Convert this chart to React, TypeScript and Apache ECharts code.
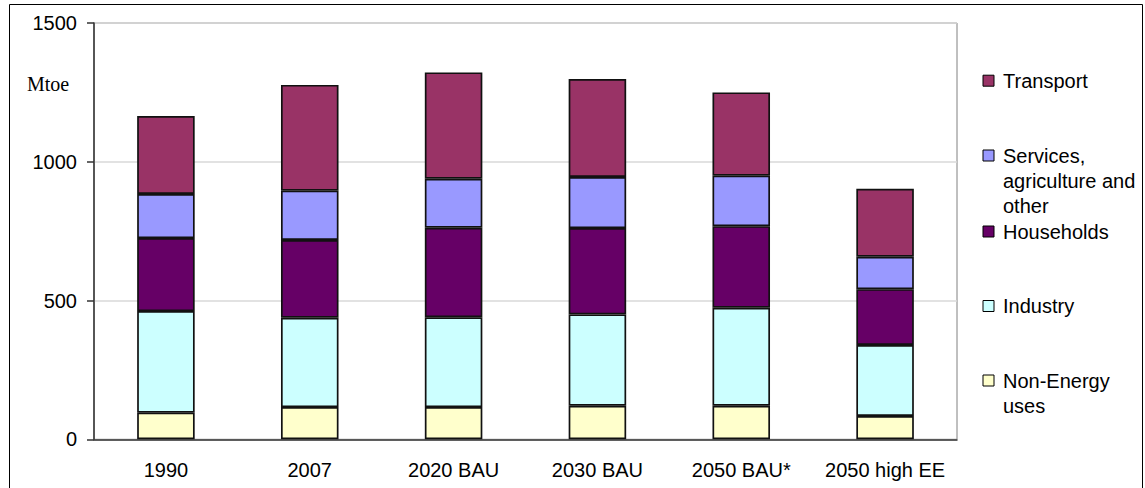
import React, { useEffect, useRef } from "react";
import * as echarts from "echarts";

const categories = ["1990", "2007", "2020 BAU", "2030 BAU", "2050 BAU*", "2050 high EE"];
const seriesNames = ["Non-Energy uses", "Industry", "Households", "Services, agriculture and other", "Transport"];
const legendLabels = ["Non-Energy\nuses", "Industry", "Households", "Services,\nagriculture and\nother", "Transport"];
const nonEnergy = [96, 116, 116, 121, 121, 84];
const industry = [366, 322, 324, 329, 353, 256];
const households = [263, 280, 322, 311, 294, 201];
const services = [159, 178, 177, 184, 182, 117];
const transport = [281, 381, 383, 353, 300, 245];
const colors = ["#FFFFCC", "#CCFFFF", "#660066", "#9999FF", "#993366"];
const yTicks = { min: 0, max: 1500, interval: 500 };

const FONT = "Arial";

export default function App() {
  const ref = useRef<HTMLDivElement>(null);
  useEffect(() => {
    if (!ref.current) return;
    const chart = echarts.init(ref.current, undefined, { renderer: "svg" });
    const data = [nonEnergy, industry, households, services, transport];
    const legendOrder = [4, 3, 2, 1, 0];
    const legendY = [80.7, 155.5, 231.5, 306, 380.5];
    const legendGraphics: any[] = [];
    legendOrder.forEach((si, k) => {
      const y = legendY[k];
      legendGraphics.push({
        type: "rect",
        shape: { x: 983, y: y - 5.5, width: 11, height: 11 },
        style: { fill: colors[si], stroke: "#000", lineWidth: 1 },
      });
      legendGraphics.push({
        type: "text",
        x: 1003,
        y: y - 12.5,
        style: {
          text: legendLabels[si],
          fontSize: 20,
          fontFamily: FONT,
          fill: "#000",
          lineHeight: 25.3,
          verticalAlign: "top",
        },
      });
    });
    chart.setOption({
      animation: false,
      backgroundColor: "#fff",
      grid: {
        left: 94,
        right: 188,
        top: 23,
        bottom: 48.7,
        show: true,
        borderColor: "#808080",
        borderWidth: 1,
      },
      xAxis: {
        type: "category",
        data: categories,
        axisLine: { lineStyle: { color: "#333", width: 1.5 } },
        axisTick: { show: false },
        axisLabel: { color: "#000", fontSize: 20, fontFamily: FONT, margin: 21, interval: 0 },
      },
      yAxis: {
        type: "value",
        min: yTicks.min,
        max: yTicks.max,
        interval: yTicks.interval,
        axisLine: { show: true, lineStyle: { color: "#333", width: 1.5 } },
        axisTick: { show: true, length: 7, lineStyle: { color: "#333", width: 1.5 } },
        axisLabel: {
          color: "#000",
          fontSize: 20,
          fontFamily: FONT,
          margin: 17,
          formatter: (v: number) => String(v),
        },
        splitLine: { lineStyle: { color: "#d9d9d9", width: 1.5 } },
      },
      series: seriesNames.map((name, i) => ({
        name,
        type: "bar",
        stack: "total",
        barWidth: "40%",
        data: data[i],
        itemStyle: { color: colors[i], borderColor: "#111", borderWidth: 1.7 },
      })),
      graphic: [
        {
          type: "rect",
          shape: { x: 9.5, y: 4.5, width: 1133, height: 520 },
          style: { fill: "none", stroke: "#000", lineWidth: 1 },
          silent: true,
        },
        {
          type: "text",
          x: 27,
          y: 84,
          style: {
            text: "Mtoe",
            fontSize: 20,
            fontFamily: "Times New Roman",
            fill: "#000",
            verticalAlign: "middle",
          },
        },
        ...legendGraphics,
      ],
    });
    return () => chart.dispose();
  }, []);
  return (
    <div
      ref={ref}
      style={{ position: "fixed", left: 0, top: 0, width: 1145, height: 488 }}
    />
  );
}
